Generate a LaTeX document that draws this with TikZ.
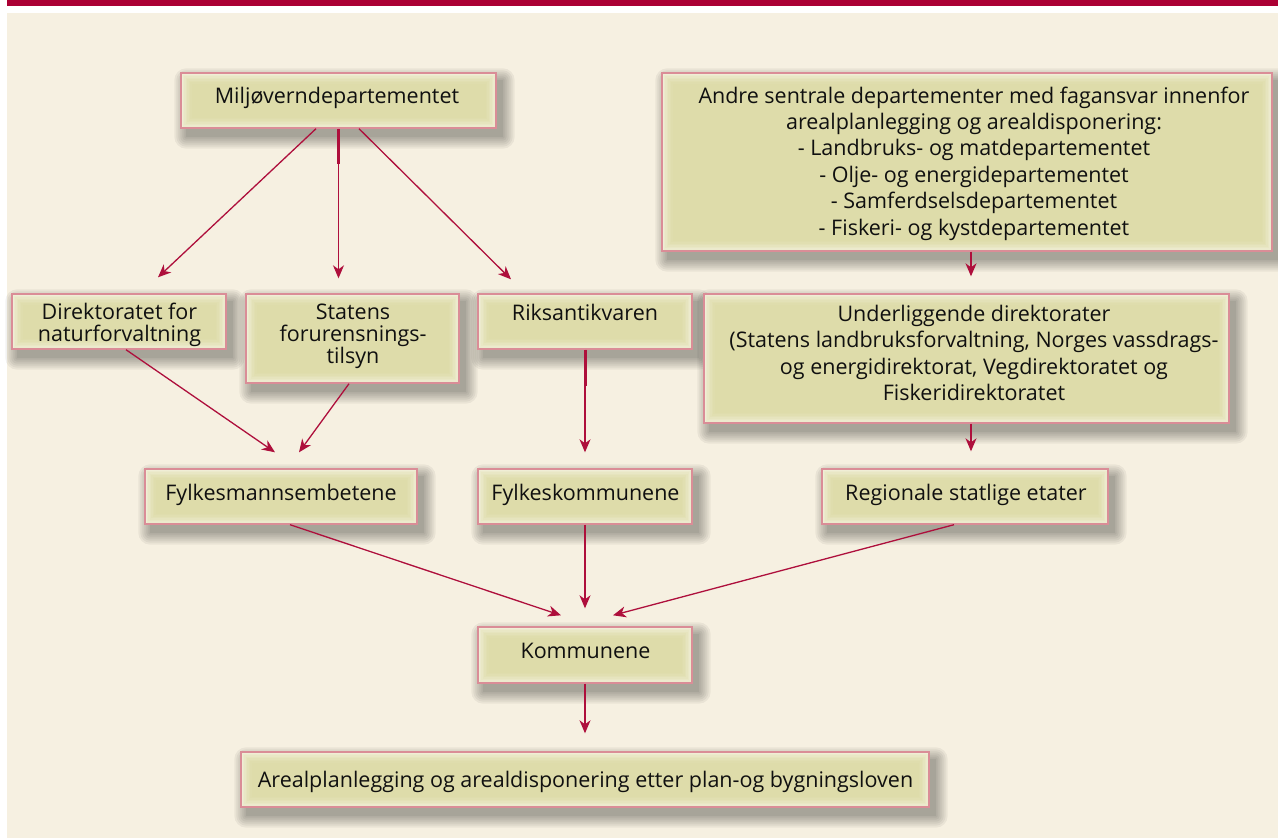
\documentclass[tikz,border=0pt]{standalone}
\usepackage{fontspec}
\setmainfont{Open Sans}
\usetikzlibrary{arrows.meta}
\definecolor{bgbeige}{HTML}{F6F0E1}
\definecolor{bandred}{HTML}{AB0034}
\definecolor{arrowred}{HTML}{AE0F3C}
\definecolor{boxborder}{HTML}{DA8D97}
\definecolor{boxctr}{HTML}{DEDCAA}
\definecolor{boxedge}{HTML}{F0EED6}
\definecolor{textblack}{HTML}{101010}
\pgfdeclarelayer{back}
\pgfdeclarelayer{shad}
\pgfsetlayers{back,shad,main}
\tikzset{
  boxst/.style={draw=boxborder, line width=1.4pt, fill=boxedge, inner sep=0pt,
    path picture={
      \foreach \i/\p in {1.5/20,3/38,4.5/55,6/70,7.5/84,9/94,10.5/100}{
        \fill[boxctr!\p!boxedge] ([shift={(\i pt,\i pt)}]path picture bounding box.south west)
          rectangle ([shift={(-\i pt,-\i pt)}]path picture bounding box.north east);
      }
    }},
  txt/.style={inner sep=0pt, text=textblack, font=\fontsize{21.5}{26.4}\selectfont, align=center},
  txtb/.style={txt, font=\fontsize{21.5}{22}\selectfont},
  conn/.style={draw=arrowred, line width=1.3pt, -{Stealth[length=13pt,width=11pt,inset=4pt]}},
  thickseg/.style={draw=arrowred, line width=3pt}
}
\begin{document}
\begin{tikzpicture}[x=1pt,y=-1pt]
\useasboundingbox (0,0) rectangle (1278,838);
\begin{pgfonlayer}{back}
  \fill[white] (0,0) rectangle (1278,838);
  \fill[bandred] (7,0) rectangle (1278,6);
  \fill[bgbeige] (7,13) rectangle (1278,838);
\end{pgfonlayer}

% boxes
\node[boxst, minimum width=315pt, minimum height=55pt] (milj) at (338.5,100.5) {};
\node[boxst, minimum width=610pt, minimum height=178pt] (andre) at (967,162) {};
\node[boxst, minimum width=214pt, minimum height=55pt] (dir) at (119,321.5) {};
\node[boxst, minimum width=213pt, minimum height=89pt] (stat) at (352.5,338.5) {};
\node[boxst, minimum width=214pt, minimum height=55pt] (riks) at (585,321.5) {};
\node[boxst, minimum width=525pt, minimum height=129pt] (under) at (966.5,358.5) {};
\node[boxst, minimum width=272pt, minimum height=55pt] (fylm) at (281,496.5) {};
\node[boxst, minimum width=214pt, minimum height=55pt] (fylk) at (585,496.5) {};
\node[boxst, minimum width=286pt, minimum height=55pt] (reg) at (965,496.5) {};
\node[boxst, minimum width=214pt, minimum height=56pt] (komm) at (585,655) {};
\node[boxst, minimum width=688pt, minimum height=55pt] (areal) at (585,779.5) {};

% shadows
\begin{pgfonlayer}{shad}
\foreach \n in {milj,andre,dir,stat,riks,under,fylm,fylk,reg,komm,areal}{
  \foreach \k in {0,2,...,12}{
    \fill[black, opacity=0.052, rounded corners=\k pt]
      ([shift={({(6-\k)*1pt},{(-8-\k)*1pt})}]\n.south west)
      rectangle ([shift={({(6+\k)*1pt},{(-8+\k)*1pt})}]\n.north east);
  }
}
\end{pgfonlayer}

% texts
\node[txt, anchor=base] (miljt) at (337,103) {Miljøverndepartementet};
\node[txt] (andret) at (974,163.5) {Andre sentrale departementer med fagansvar innenfor\\arealplanlegging og arealdisponering:\\- Landbruks- og matdepartementet\\- Olje- og energidepartementet\\- Samferdselsdepartementet\\- Fiskeri- og kystdepartementet};
\node[txtb] (dirt) at (119.5,324.5) {Direktoratet for\\naturforvaltning};
\node[txtb] (statt) at (353,336) {Statens\\forurensnings-\\tilsyn};
\node[txt, anchor=base] (rikst) at (585,320) {Riksantikvaren};
\node[txt] (undert) at (974,353) {Underliggende direktorater\\(Statens landbruksforvaltning, Norges vassdrags-\\og energidirektorat, Vegdirektoratet og\\Fiskeridirektoratet};
\node[txt, anchor=base] (fylmt) at (281,500) {Fylkesmannsembetene};
\node[txt, anchor=base] (fylkt) at (585.5,500) {Fylkeskommunene};
\node[txt, anchor=base] (regt) at (966,500) {Regionale statlige etater};
\node[txt, anchor=base] (kommt) at (585.5,658) {Kommunene};
\node[txt, anchor=base] (arealt) at (585.5,787) {Arealplanlegging og arealdisponering etter plan-og bygningsloven};

% connectors
\draw[conn] ([xshift=-22.5pt]milj.south) -- ([xshift=39pt,yshift=16pt]dir.north);
\draw[conn] (milj.south) -- ([xshift=-14pt,yshift=15pt]stat.north);
\draw[thickseg] (milj.south) -- ++(0,35);
\draw[conn] ([xshift=20.5pt]milj.south) -- ([xshift=-74pt,yshift=14pt]riks.north);
\draw[conn] ([xshift=7pt]dir.south) -- ([xshift=-6pt,yshift=16pt]fylm.north);
\draw[conn] ([xshift=-3.5pt]stat.south) -- ([xshift=18pt,yshift=16pt]fylm.north);
\draw[conn] (riks.south) -- ([yshift=16pt]fylk.north);
\draw[thickseg] (riks.south) -- ++(0,36);
\draw[conn] ([xshift=4pt]andre.south) -- ([xshift=4.5pt,yshift=17pt]under.north);
\draw[conn] ([xshift=4.5pt]under.south) -- ([xshift=6pt,yshift=17pt]reg.north);
\draw[conn] ([xshift=9pt]fylm.south) -- ([xshift=-24pt,yshift=11pt]komm.north);
\draw[conn] (fylk.south) -- ([yshift=18pt]komm.north);
\draw[conn] ([xshift=-11pt]reg.south) -- ([xshift=28pt,yshift=11pt]komm.north);
\draw[conn] (komm.south) -- ([yshift=18pt]areal.north);
\end{tikzpicture}
\end{document}
